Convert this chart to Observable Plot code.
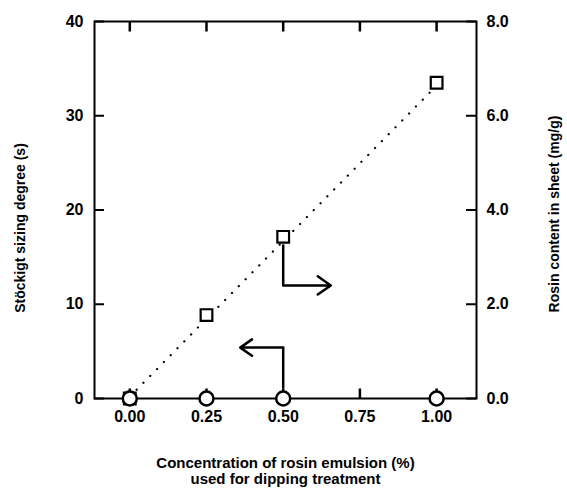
<!DOCTYPE html>
<html>
<head>
<meta charset="utf-8">
<script src="https://cdn.jsdelivr.net/npm/d3@7"></script>
<script src="https://cdn.jsdelivr.net/npm/@observablehq/plot@0.6"></script>
<style>
  html, body { margin: 0; padding: 0; background: #fff; }
  svg { font-family: "Liberation Sans", Arial, sans-serif; }
</style>
</head>
<body>
<div id="chart"></div>
<script>
// Concentration of rosin emulsion (%)
const concentration = [0.00, 0.25, 0.50, 1.00];
// Stöckigt sizing degree (s) — left axis
const sizingDegree = [0, 0, 0, 0];
// Rosin content in sheet (mg/g) — right axis
const rosinContent = [0.0, 1.77, 3.43, 6.70];
// Dotted fit line through rosin content (x, mg/g)
const fitX = [0.0, 1.0];
const fitY = [0.04, 6.64];
// Tick values
const xTicks = [0.00, 0.25, 0.50, 0.75, 1.00];
const leftTicks = [0, 10, 20, 30, 40];
const rightTicks = [0.0, 2.0, 4.0, 6.0, 8.0];
// Annotation arrows (x in %, y in left-axis units)
const arrowRight = {x: 0.5, yTop: 16.3, yBend: 12.0, xEnd: 0.655};
const arrowLeft = {x: 0.5, yBottom: 1.0, yBend: 5.4, xEnd: 0.36};

const ratio = 40 / 8; // left-axis units per mg/g

const circles = concentration.map((c, i) => ({x: c, y: sizingDegree[i]}));
const squares = concentration.map((c, i) => ({x: c, y: rosinContent[i] * ratio}));
const fit = fitX.map((x, i) => ({x, y: fitY[i] * ratio}));
const xTickRows = xTicks.map(v => ({v}));

const W = 567, H = 492, ML = 94, MR = 91, MT = 21, MB = 94;
const innerW = W - ML - MR, innerH = H - MT - MB;
const T = 10; // inward tick length (px)
const yMax = 40;
const tLen = yMax * T / innerH; // same length in left-axis units
const fontTick = {fontSize: 16, fontWeight: "bold"};

const chart = Plot.plot({
  width: W,
  height: H,
  marginLeft: ML,
  marginRight: MR,
  marginTop: MT,
  marginBottom: MB,
  style: {fontFamily: "Liberation Sans, Arial, sans-serif", color: "#000", background: "#fff"},
  x: {domain: [-0.115, 1.13]},
  y: {domain: [0, yMax]},
  marks: [
    Plot.frame({stroke: "#000", strokeWidth: 2}),
    // inward ticks
    Plot.link(xTickRows, {x1: "v", x2: "v", y1: () => 0, y2: () => tLen, stroke: "#000", strokeWidth: 2.5}),
    Plot.link(xTickRows, {x1: "v", x2: "v", y1: () => yMax - tLen, y2: () => yMax, stroke: "#000", strokeWidth: 2.5}),
    Plot.ruleY(leftTicks, {y: d => d, insetRight: innerW - T, stroke: "#000", strokeWidth: 2}),
    Plot.ruleY(rightTicks, {y: d => d * ratio, insetLeft: innerW - T, stroke: "#000", strokeWidth: 2}),
    // tick labels
    Plot.axisX(xTicks, {anchor: "bottom", tickSize: 0, tickPadding: 12, tickFormat: d3.format(".2f"), label: null, ...fontTick}),
    Plot.axisY(leftTicks, {anchor: "left", tickSize: 0, tickPadding: 11, tickFormat: d => d, label: null, ...fontTick}),
    Plot.axisY(rightTicks.map(t => t * ratio), {anchor: "right", tickSize: 0, tickPadding: 10, tickFormat: d => (d / ratio).toFixed(1), label: null, ...fontTick}),
    // dotted fit line
    Plot.line(fit, {x: "x", y: "y", stroke: "#000", strokeWidth: 2.2, strokeDasharray: "0.1 9.6", strokeLinecap: "round"}),
    // arrows
    Plot.ruleX([arrowRight], {x: "x", y1: "yTop", y2: "yBend", stroke: "#000", strokeWidth: 2.5}),
    Plot.arrow([arrowRight], {x1: "x", x2: "xEnd", y1: "yBend", y2: "yBend", stroke: "#000", strokeWidth: 2.5, headLength: 12, headAngle: 70}),
    Plot.ruleX([arrowLeft], {x: "x", y1: "yBottom", y2: "yBend", stroke: "#000", strokeWidth: 2.5}),
    Plot.arrow([arrowLeft], {x1: "x", x2: "xEnd", y1: "yBend", y2: "yBend", stroke: "#000", strokeWidth: 2.5, headLength: 12, headAngle: 70}),
    // markers
    Plot.dot(squares, {x: "x", y: "y", symbol: "square", r: 6.6, fill: "#fff", stroke: "#000", strokeWidth: 2.2}),
    Plot.dot(circles, {x: "x", y: "y", symbol: "circle", r: 7, fill: "#fff", stroke: "#000", strokeWidth: 2.5}),
    // axis titles
    Plot.text(["Stöckigt sizing degree (s)"], {frameAnchor: "left", textAnchor: "middle", dx: -74, dy: 18, rotate: -90, fontSize: 14, fontWeight: "bold", fill: "#000"}),
    Plot.text(["Rosin content in sheet (mg/g)"], {frameAnchor: "right", textAnchor: "middle", dx: 78, dy: 4, rotate: -90, fontSize: 14, fontWeight: "bold", fill: "#000"}),
    Plot.text(["Concentration of rosin emulsion (%)\nused for dipping treatment"], {frameAnchor: "bottom", dy: 72, lineAnchor: "middle", lineHeight: 1.1, fontSize: 15, fontWeight: "bold", fill: "#000"})
  ]
});
document.getElementById("chart").appendChild(chart);
</script>
</body>
</html>
